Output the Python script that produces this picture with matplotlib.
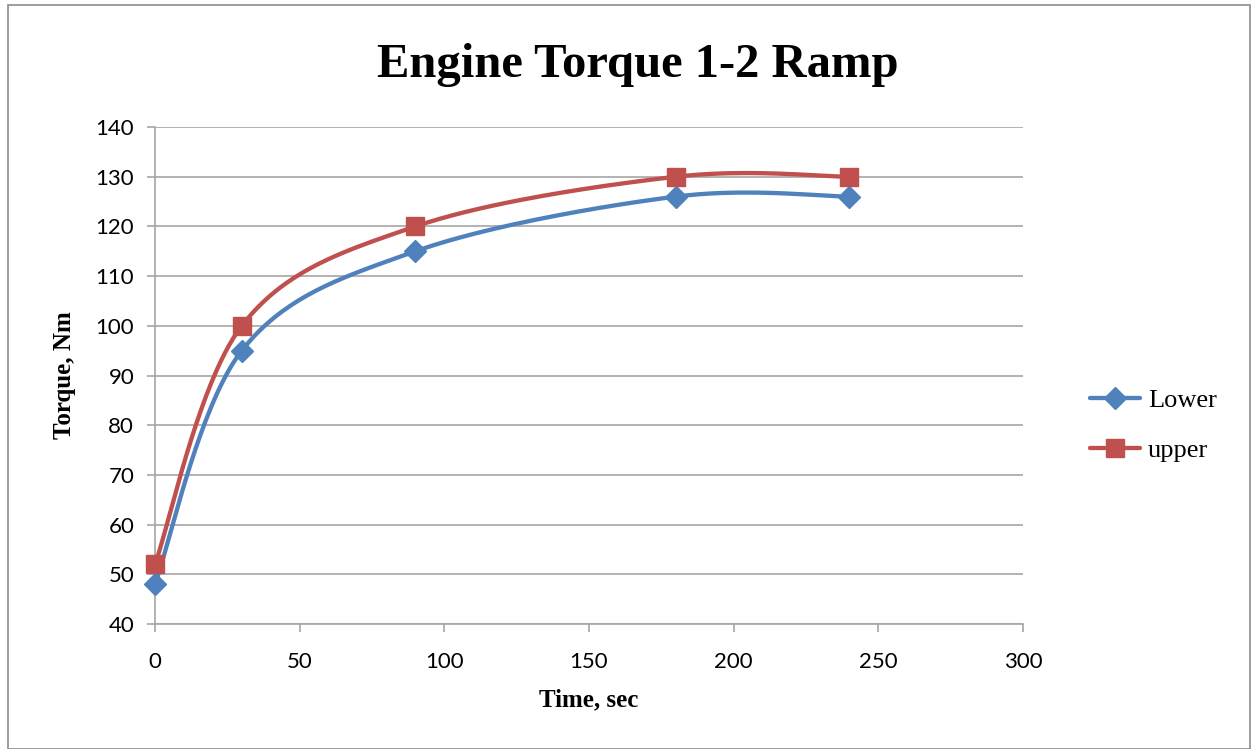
import numpy as np
import matplotlib.pyplot as plt
from matplotlib.patches import Rectangle

# data
time_sec = [0, 30, 90, 180, 240]
lower = [48, 95, 115, 126, 126]
upper = [52, 100, 120, 130, 130]

blue = "#4F81BD"
red = "#C0504D"
gray = "#A6A6A6"


# Excel style smoothed line (Catmull-Rom through the points)
def smooth(x, y, n=40):
    p = np.column_stack([x, y]).astype(float)
    p = np.vstack([p[0], p, p[-1]])
    out = []
    for i in range(1, len(p) - 2):
        p0, p1, p2, p3 = p[i - 1], p[i], p[i + 1], p[i + 2]
        c1 = p1 + (p2 - p0) / 6.0
        c2 = p2 - (p3 - p1) / 6.0
        t = np.linspace(0, 1, n)[:, None]
        seg = ((1 - t) ** 3) * p1 + 3 * ((1 - t) ** 2) * t * c1 + 3 * (1 - t) * t ** 2 * c2 + t ** 3 * p2
        out.append(seg)
    s = np.vstack(out)
    return s[:, 0], s[:, 1]


fig = plt.figure(figsize=(12.55, 7.49), dpi=100)
ax = fig.add_axes([0.1235, 0.1669, 0.6916, 0.6635])

for ys, c, m, ms, lab in [(lower, blue, "D", 11.5, "Lower"), (upper, red, "s", 12.5, "upper")]:
    sx, sy = smooth(time_sec, ys)
    ax.plot(sx, sy, color=c, lw=3.1, solid_capstyle="round", zorder=3, clip_on=False)
    ax.plot(time_sec, ys, ls="none", marker=m, ms=ms, color=c, zorder=4, clip_on=False)
    ax.plot([], [], color=c, lw=3.1, marker=m, ms=ms, label=lab, solid_capstyle="round")

ax.set_xlim(0, 300)
ax.set_ylim(40, 140)
ax.set_xticks(range(0, 301, 50))
ax.set_yticks(range(40, 141, 10))
ax.grid(axis="y", color=gray, lw=1.2)
ax.set_axisbelow(True)
for s in ["top", "right"]:
    ax.spines[s].set_visible(False)
for s in ["left", "bottom"]:
    ax.spines[s].set_color(gray)
    ax.spines[s].set_linewidth(1.2)
ax.tick_params(colors=gray, width=1.2, length=6, labelcolor="black", labelsize=16)
ax.tick_params(axis="x", pad=14)
ax.tick_params(axis="y", pad=9)
for lbl in ax.get_xticklabels() + ax.get_yticklabels():
    lbl.set_family("Lato")

ax.set_xlabel("Time, sec", family="Liberation Serif", fontweight="bold", fontsize=18, labelpad=12)
ax.set_ylabel("Torque, Nm", family="Liberation Serif", fontweight="bold", fontsize=18, labelpad=14)
fig.text(0.508, 0.913, "Engine Torque 1-2 Ramp", family="Liberation Serif", fontweight="bold",
         fontsize=35, ha="center", va="center")

ax.legend(loc="center left", bbox_to_anchor=(1.077, 0.40), frameon=False, borderaxespad=0,
          borderpad=0, prop={"family": "Liberation Serif", "size": 19}, handlelength=1.9,
          handletextpad=0.3, labelspacing=1.0)

fig.patches.append(Rectangle((0.006, 0.0), 0.99, 0.993, transform=fig.transFigure,
                             fill=False, edgecolor="#8C8C8C", lw=1.2))

fig.savefig("out.png", dpi=100)
